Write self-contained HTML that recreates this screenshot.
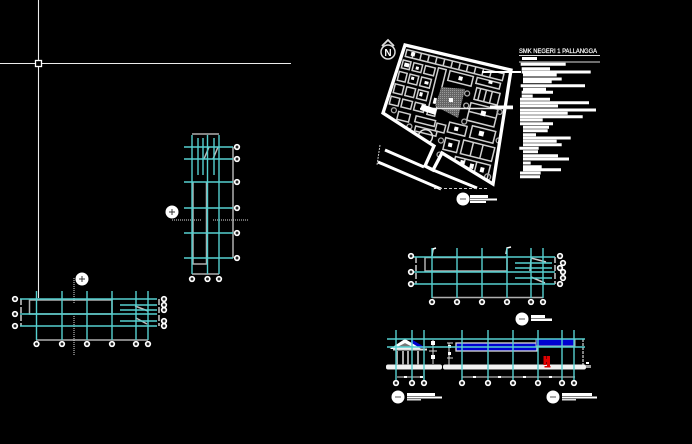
<!DOCTYPE html>
<html><head><meta charset="utf-8"><style>
html,body{margin:0;padding:0;background:#000;width:692px;height:444px;overflow:hidden}
svg{display:block}
.c{stroke:#55d0d0;stroke-width:1.4;fill:none}
.g{stroke:#b0b0b0;stroke-width:1.500;fill:none}
.w{stroke:#fff;stroke-width:1.200;fill:none}
.b circle{fill:#222;stroke:#fff;stroke-width:1.700}
</style></head><body>
<svg width="692" height="444" viewBox="0 0 692 444" xmlns="http://www.w3.org/2000/svg">
<defs>
<pattern id="d" width="2" height="2" patternUnits="userSpaceOnUse"><rect width="2" height="2" fill="#666"/><rect width="1" height="1" fill="#999"/></pattern>
<clipPath id="cp"><polygon points="405,45 511,70 493,184 442,153 433,170 425,166 434,146 383,113"/></clipPath>
</defs>
<rect width="692" height="444" fill="#000"/>

<!-- crosshair -->
<path d="M38.500 0V298M0 63.500H291" stroke="#ececec" stroke-width="1.100" fill="none"/>
<rect x="35.500" y="60.500" width="6" height="6" fill="#000" stroke="#fff" stroke-width="1.300"/>

<!-- left plan -->
<path class="g" d="M29.500 300H112V314H29.500ZM36 340H148"/>
<path d="M135 306l13 5M136 318l11 6" stroke="#bbb" stroke-width="1.500"/>
<path class="w" d="M21 299v27M159 299v27" stroke-dasharray="6 2"/>
<path d="M74 278V303M74 316V355" stroke="#ddd" stroke-width="1" stroke-dasharray="1 1"/>
<path class="c" d="M36.500 291V340M62 291V340M87 291V340M112 291V340M136 291V340M148 291V340M20 299H157M20 314H157M20 326H157M120 305H157M120 310H157M120 321H157"/>
<g class="b"><circle cx="15" cy="299" r="2.300"/><circle cx="15" cy="314" r="2.300"/><circle cx="15" cy="326" r="2.300"/>
<circle cx="164" cy="299" r="2.300"/><circle cx="164" cy="305" r="2.300"/><circle cx="164" cy="310" r="2.300"/><circle cx="164" cy="321" r="2.300"/><circle cx="164" cy="326" r="2.300"/>
<circle cx="36.500" cy="344" r="2.300"/><circle cx="62" cy="344" r="2.300"/><circle cx="87" cy="344" r="2.300"/><circle cx="112" cy="344" r="2.300"/><circle cx="136" cy="344" r="2.300"/><circle cx="148" cy="344" r="2.300"/></g>
<circle cx="82" cy="279" r="6.500" fill="#fff"/><path d="M79 279h6M82 276v6" stroke="#333" stroke-width="1"/>

<!-- vertical plan -->
<path class="g" d="M193 182V264H206.500V182M192 274H219M233 147V258M192 134H219"/>
<path d="M204 159l5-12M213 159l5-12" stroke="#bbb" stroke-width="1.500"/>
<path d="M172 220H201M213 220H249" stroke="#ddd" stroke-width="1" stroke-dasharray="1 1"/>
<path class="c" d="M192 135V274M207.500 135V274M219 135V274M198 138V175M203 138V175M214 138V175M184 147H233M184 159H233M184 182H233M184 208H233M184 233H233M184 258H233"/>
<g class="b"><circle cx="237" cy="147" r="2.300"/><circle cx="237" cy="159" r="2.300"/><circle cx="237" cy="182" r="2.300"/><circle cx="237" cy="208" r="2.300"/><circle cx="237" cy="233" r="2.300"/><circle cx="237" cy="258" r="2.300"/>
<circle cx="192" cy="279" r="2.300"/><circle cx="207.500" cy="279" r="2.300"/><circle cx="219" cy="279" r="2.300"/></g>
<circle cx="172" cy="212" r="6.500" fill="#fff"/><path d="M169 212h6M172 209v6" stroke="#333" stroke-width="1"/>

<!-- site plan -->
<polygon points="405,45 511,70 493,184 442,153 433,170 425,166 434,146 383,113" fill="#000"/>
<g clip-path="url(#cp)">
<g transform="rotate(14 405 45)"><g transform="translate(405 45)">
<g fill="none" stroke="#d0d0d0" stroke-width="1.500">
<path d="M3 4h100v7h-100zM10 4v7M18 4v7M26 4v7M34 4v7M42 4v7M50 4v7M58 4v7M66 4v7M74 4v7M82 4v7M90 4v7"/>
<path d="M2 15h8v8h-8zM13 15h9v8h-9zM25 15h10v8h-10zM1 27h8v9h-8zM12 27h9v9h-9zM24 27h10v9h-10zM0 40h9v9h-9zM12 40h9v9h-9zM24 40h10v9h-10zM-1 53h9v8h-9zM11 53h10v8h-10zM24 53h10v8h-10z"/>
<path d="M38 14v48h8v-48zM50 14h24v10h-24zM78 14h24v6h-24zM80 24h24v12h-24zM84 24v12M90 24v12M96 24v12"/>
<path d="M78 40h28v18h-28zM78 49h28M85 62h24v12h-24zM80 78h32v14h-32zM90 78v14M100 78v14"/>
<path d="M62 64h18v10h-18zM50 68h9v8h-9zM62 80h14v12h-14zM76 96h36v16h-36zM86 96v16M98 96v16"/>
<path d="M28 66h20v6h-20zM30 76h22v5h-22zM10 66h12v8h-12z"/>
</g>
<circle cx="42" cy="84" r="7" fill="none" stroke="#ddd" stroke-width="1.500"/>
<g fill="none" stroke="#aaa" stroke-width="1.300"><circle cx="5" cy="66" r="2.500"/><circle cx="24" cy="78" r="2.500"/><circle cx="58" cy="84" r="2.500"/><circle cx="48" cy="6" r="0"/><circle cx="76" cy="60" r="2.500"/><circle cx="108" cy="42" r="2.500"/><circle cx="72" cy="32" r="2.500"/><circle cx="74" cy="44" r="2.500"/><circle cx="60" cy="98" r="2.500"/><circle cx="70" cy="104" r="2.500"/><circle cx="112" cy="108" r="3"/><circle cx="114" cy="70" r="2.500"/></g>
<g fill="#fff"><rect x="4" y="17" width="5" height="4"/><rect x="16" y="18" width="3" height="3"/><rect x="28" y="30" width="4" height="3"/><rect x="14" y="29" width="3" height="3"/><rect x="26" y="42" width="3" height="4"/><rect x="41" y="44" width="3" height="6"/><rect x="60" y="17" width="4" height="4"/><rect x="90" y="14" width="4" height="3"/><rect x="90" y="45" width="5" height="5"/><rect x="93" y="65" width="5" height="5"/><rect x="68" y="67" width="4" height="4"/><rect x="82" y="98" width="4" height="5"/><rect x="92" y="99" width="4" height="5"/><rect x="103" y="100" width="4" height="5"/><rect x="66" y="84" width="4" height="4"/><rect x="8" y="5" width="4" height="4"/></g>
</g></g>
</g>
<polygon points="405,45 511,70 493,184 442,153 433,170 425,166 434,146 383,113" fill="none" stroke="#fff" stroke-width="3.300"/>
<polygon points="441.500,87 465,89 458,118 435,106" fill="url(#d)"/>
<rect x="449" y="98" width="4" height="4" fill="#fff"/>
<path d="M385 150L424 167M378 162L441 189" stroke="#fff" stroke-width="3" fill="none"/>
<path d="M433 170L477 188" stroke="#fff" stroke-width="3" fill="none"/>
<path d="M414 171L441 183" stroke="#fff" stroke-width="3" stroke-dasharray="1 1" opacity="0"/>
<path d="M434 188.500H487" stroke="#ccc" stroke-width="1" stroke-dasharray="3 2"/>
<path d="M380 145L377 165" stroke="#ccc" stroke-width="1" stroke-dasharray="2 1"/>
<path d="M482 72H521" stroke="#fff" stroke-width="2"/>
<path d="M420 108.500H513" stroke="#e8e8e8" stroke-width="1.500"/>
<path d="M490 107H513" stroke="#fff" stroke-width="3"/>
<path d="M421 107L436 112" stroke="#fff" stroke-width="6"/>
<!-- north arrow -->
<circle cx="388" cy="52" r="7" fill="#000" stroke="#ddd" stroke-width="1.500"/>
<path d="M382 46L388 40L394 46" fill="none" stroke="#ddd" stroke-width="1.800"/>
<text x="388" y="56" font-family="'Liberation Sans',sans-serif" font-size="10" font-weight="bold" fill="#fff" text-anchor="middle">N</text>

<!-- legend -->
<text x="519" y="53" font-family="'Liberation Sans',sans-serif" font-size="6" fill="#fff" stroke="#fff" stroke-width="0.200" textLength="78" lengthAdjust="spacingAndGlyphs">SMK NEGERI 1 PALLANGGA</text>
<path d="M519 55.500H600M519 62H600" stroke="#ddd" stroke-width="1"/>
<rect x="522" y="57" width="15" height="3" fill="#fff"/>
<path stroke="#fff" stroke-width="3" fill="none" d="M520.700 64.300H565.700M521.700 68.700H550M521.700 72H590.700M523 75H556.700M523 79H561.700M523 81.700H551.700M520.700 85.700H585M523 89.300H546M521.700 92.300H553M521.700 96H532.700M520 99.300H550M520 102.700H589M520 106H558M520 110H596M520 113.300H567.700M520 116.700H582.700M520 120H542.700M520 123.700H553M523 127.300H549M523 130.700H547.700M523 134.700H536M523 138H570.700M523 141.300H556.700M523 144.700H561.700M519.300 148.300H538.700M523 151.700H538M523 155.700H558M523 159H569M523 163H530.700M523 166.700H541.700M523 169.700H561M520 173H540.700M520 176.700H540"/>

<circle cx="463" cy="199" r="6.500" fill="#fff"/><path d="M460 199h6" stroke="#555"/>
<rect x="470" y="195" width="18" height="3" fill="#fff"/><rect x="470" y="198.500" width="27" height="2" fill="#fff"/><rect x="470" y="201" width="16" height="2" fill="#fff"/>

<!-- right plan -->
<path class="g" d="M425 257.500H507V271H425ZM432 297.500H543"/>
<path d="M531 259l-1 12M531 258l15 4M531 277l14 6" stroke="#ccc" stroke-width="1.500" fill="none"/>
<path class="w" d="M416 257v27M555 257v27" stroke-dasharray="6 2"/>
<path d="M432 256l1-7 3-1M506 254l1-6 4-1" stroke="#fff" stroke-width="1.500" fill="none"/>
<path class="c" d="M432 248V298M457 248V298M482 248V298M507 248V298M531 248V298M543 248V298M412 257H555M412 272H555M412 284H555M515 263H552M515 268H552M515 278H552"/>
<g class="b"><circle cx="411" cy="256" r="2.300"/><circle cx="411" cy="272" r="2.300"/><circle cx="411" cy="284" r="2.300"/>
<circle cx="560" cy="256" r="2.300"/><circle cx="563" cy="263" r="2.300"/><circle cx="560" cy="268" r="2.300"/><circle cx="563" cy="272" r="2.300"/><circle cx="563" cy="278" r="2.300"/><circle cx="560" cy="284" r="2.300"/>
<circle cx="432" cy="302" r="2.300"/><circle cx="457" cy="302" r="2.300"/><circle cx="482" cy="302" r="2.300"/><circle cx="507" cy="302" r="2.300"/><circle cx="531" cy="302" r="2.300"/><circle cx="543" cy="302" r="2.300"/></g>
<circle cx="522" cy="319" r="6.500" fill="#fff"/><path d="M519 319h6" stroke="#555"/>
<rect x="531" y="315" width="14" height="3" fill="#fff"/><rect x="531" y="318.500" width="21" height="2.500" fill="#fff"/>

<!-- elevation -->
<rect x="386" y="364.500" width="56" height="5" rx="2" fill="#f2f2f2"/>
<rect x="443" y="364.500" width="143" height="5" rx="2" fill="#f2f2f2"/>
<rect x="586" y="365" width="5" height="3" fill="#999"/>
<rect x="456" y="343" width="81" height="8" fill="#0000d0" stroke="#ddd" stroke-width="1.300"/>
<rect x="536" y="339" width="39" height="7" fill="#0000d0" stroke="#bbb"/>
<path d="M411 339L426 348L418 348L411 343Z" fill="#0000d0"/>
<path d="M393 348L405 340L418 348Z" fill="#777" stroke="#fff" stroke-width="2"/>
<path d="M393 349.500H427" stroke="#ddd" stroke-width="2"/>
<path d="M397 346L405 342L413 346" stroke="#fff" stroke-width="2" fill="none"/>
<path d="M397 351V365M403 351V365M408 351V365M418 351V365" stroke="#aaa" stroke-width="2"/>
<path d="M433 340V364M429 351H437M449 343V365M447 343H453M447 358H453" stroke="#ddd" stroke-width="1" fill="none"/>
<rect x="431" y="341" width="4" height="4" fill="#fff"/><rect x="431" y="355" width="4" height="4" fill="#fff"/>
<rect x="448" y="345" width="3" height="3" fill="#fff"/><rect x="448" y="352" width="3" height="3" fill="#fff"/>
<path d="M462 351V365M488 351V365M513 351V365" stroke="#999"/>
<path d="M583 339V365" stroke="#fff" stroke-dasharray="3 1"/>
<rect x="586" y="362" width="3" height="2" fill="#fff"/>
<path d="M397 377H423M462 377H575" stroke="#ddd" stroke-width="1" fill="none"/>
<path d="M404 377h3M420 377h3M473 377h3M498 377h3M523 377h3M549 377h3" stroke="#fff" stroke-width="2"/>
<path class="c" d="M396 330V380M412 330V380M424 330V380M462 330V380M488 330V380M513 330V380M538 330V380M562 330V380M574 330V380"/>
<path class="c" d="M387 339H585M387 347H585"/>
<g fill="#e00000"><rect x="543.500" y="356" width="3" height="9"/><rect x="547" y="356" width="3" height="10"/><rect x="544" y="359" width="6" height="3"/><rect x="544.500" y="366" width="6" height="1.500"/></g>
<g class="b"><circle cx="396" cy="383" r="2.300"/><circle cx="412" cy="383" r="2.300"/><circle cx="424" cy="383" r="2.300"/><circle cx="462" cy="383" r="2.300"/><circle cx="488" cy="383" r="2.300"/><circle cx="513" cy="383" r="2.300"/><circle cx="562" cy="383" r="2.300"/><circle cx="574" cy="383" r="2.300"/><circle cx="538" cy="383" r="2.300"/></g>
<circle cx="398" cy="397" r="6.500" fill="#fff"/><path d="M395 397h6" stroke="#555"/>
<rect x="407" y="393" width="28" height="3" fill="#fff"/><rect x="407" y="396.500" width="35" height="2" fill="#fff"/><rect x="407" y="399" width="14" height="1.500" fill="#ddd"/>
<circle cx="553" cy="397" r="6.500" fill="#fff"/><path d="M550 397h6" stroke="#555"/>
<rect x="562" y="393" width="30" height="3" fill="#fff"/><rect x="562" y="396.500" width="35" height="2" fill="#fff"/><rect x="562" y="399" width="14" height="1.500" fill="#ddd"/>
</svg>
</body></html>
